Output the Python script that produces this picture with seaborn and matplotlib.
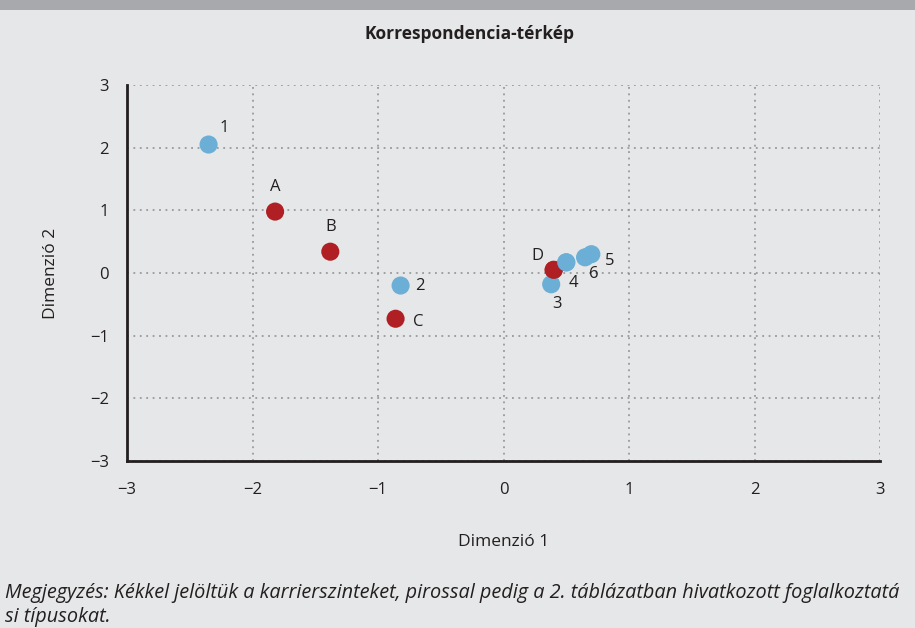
import matplotlib
matplotlib.use("Agg")
import matplotlib.pyplot as plt
import seaborn as sns
import pandas as pd

# karrierszintek (kék) és foglalkoztatási típusok (piros)
labels = ["1", "2", "3", "4", "5", "6", "A", "B", "C", "D"]
dim1 = [-2.35, -0.82, 0.38, 0.50, 0.70, 0.65, -1.82, -1.38, -0.86, 0.40]
dim2 = [2.05, -0.20, -0.18, 0.17, 0.30, 0.25, 0.98, 0.34, -0.73, 0.05]
kind = ["karrier"] * 6 + ["tipus"] * 4
# label offsets in points
offsets = [(11, 12), (14, 0), (4, -14), (5, -15), (13, -5), (6, -12),
           (0, 18), (0, 18), (16, -2), (-12, 10)]

ticks = [-3, -2, -1, 0, 1, 2, 3]

BG = "#E6E7E8"
BLUE = "#6BAED6"
RED = "#B01F24"
INK = "#231F20"

df = pd.DataFrame({"x": dim1, "y": dim2, "kind": kind, "label": labels})

sns.set_style("white")
plt.rcParams["font.family"] = ["Open Sans", "DejaVu Sans"]

fig = plt.figure(figsize=(9.15, 6.28), dpi=100)
fig.patch.set_facecolor(BG)
# top grey band
fig.add_artist(plt.Rectangle((0, 1 - 10 / 628), 1, 10 / 628, transform=fig.transFigure,
                             color="#A7A9AC", lw=0))

ax = fig.add_axes([127 / 915, 1 - 461 / 628, (880 - 127) / 915, (461 - 85) / 628])
ax.set_facecolor(BG)

sns.scatterplot(data=df[df.kind == "tipus"], x="x", y="y", color=RED, s=170,
                edgecolor="none", ax=ax, legend=False, zorder=3)
sns.scatterplot(data=df[df.kind == "karrier"], x="x", y="y", color=BLUE, s=170,
                edgecolor="none", ax=ax, legend=False, zorder=3)
# D sits on top of 3, 4 sits on top of D
d = df[df.label == "D"]
ax.scatter(d.x, d.y, color=RED, s=170, edgecolor="none", zorder=4)
four = df[df.label == "4"]
ax.scatter(four.x, four.y, color=BLUE, s=170, edgecolor="none", zorder=5)

for (lab, x, y), off in zip(zip(labels, dim1, dim2), offsets):
    ax.annotate(lab, (x, y), xytext=off, textcoords="offset points",
                ha="center", va="center", fontsize=12, color=INK)

ax.set_xlim(-3, 3)
ax.set_ylim(-3, 3)
ax.set_xticks(ticks)
ax.set_yticks(ticks)
ax.set_xticklabels([str(t).replace("-", "\u2212") for t in ticks])
ax.set_yticklabels([str(t).replace("-", "\u2212") for t in ticks])
ax.tick_params(axis="both", direction="inout", length=6, width=1.5, colors=INK,
               labelsize=12)
ax.tick_params(axis="x", pad=12)
ax.tick_params(axis="y", pad=10)
ax.grid(True, linestyle=(0, (1.2, 3)), color="#8A8C8F", linewidth=1.1)
ax.set_axisbelow(True)
for side in ["top", "right"]:
    ax.spines[side].set_visible(False)
for side in ["left", "bottom"]:
    ax.spines[side].set_linewidth(2)
    ax.spines[side].set_color(INK)
    ax.spines[side].set_zorder(2)

ax.set_xlabel("Dimenzió 1", fontsize=12.5, color=INK, labelpad=26)
ax.set_ylabel("Dimenzió 2", fontsize=12.5, color=INK, labelpad=22)

fig.text(469 / 915, 1 - 34 / 628, "Korrespondencia-térkép", ha="center", va="center",
         fontsize=12.5, fontweight="bold", color=INK)

note = ("Megjegyzés: Kékkel jelöltük a karrierszinteket, pirossal pedig a 2. táblázatban "
        "hivatkozott foglalkoztatá\nsi típusokat.")
fig.text(5 / 915, 1 - 605 / 628, note, ha="left", va="center", fontsize=14.3,
         style="italic", color=INK, linespacing=1.22)

fig.savefig("out.png", dpi=100, facecolor=BG)
